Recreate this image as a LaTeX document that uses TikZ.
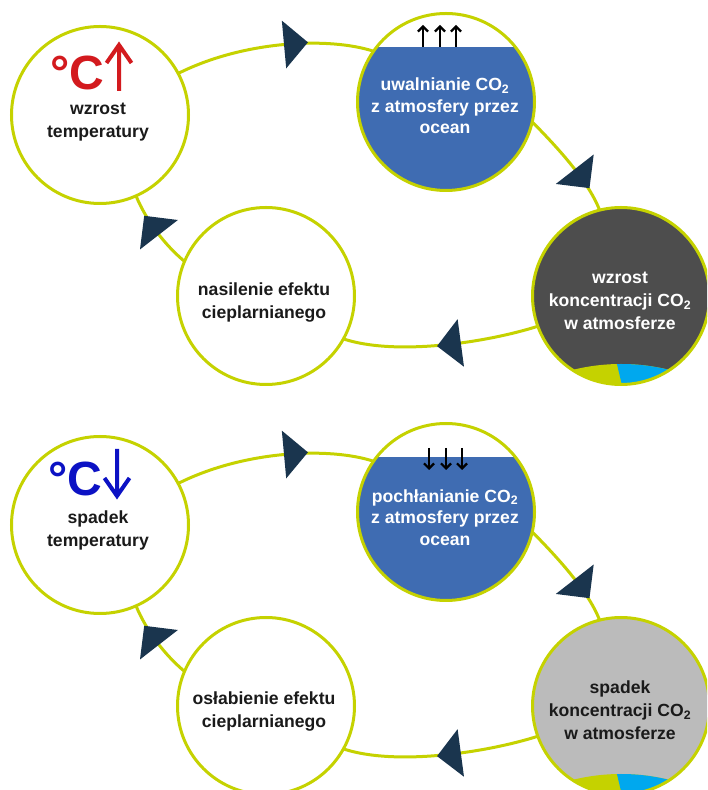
\documentclass[tikz,border=0pt]{standalone}
\usepackage{fontspec}
\usetikzlibrary{arrows.meta,decorations.markings}
\newfontfamily\labfont{Liberation Sans}
\newfontfamily\degfont{Liberation Sans}
\definecolor{ring}{HTML}{C5D200}
\definecolor{navy}{HTML}{1A354E}
\definecolor{oceanblue}{HTML}{3F6CB2}
\definecolor{darkgrey}{HTML}{4D4D4D}
\definecolor{lightgrey}{HTML}{BBBBBB}
\definecolor{cyanblue}{HTML}{00A8EE}
\definecolor{tempred}{HTML}{D31A1E}
\definecolor{tempblue}{HTML}{0C12C4}
\definecolor{txt}{HTML}{1A1A1A}
\tikzset{
  bubble/.style={circle, draw=ring, line width=3pt, fill=white, minimum size=177pt, inner sep=0pt, outer sep=0pt},
  ocean/.style={bubble, path picture={
      \fill[oceanblue] ([shift={(-100pt,-100pt)}]path picture bounding box.center) rectangle ([shift={(100pt,55pt)}]path picture bounding box.center);}},
  globe/.style={bubble, path picture={
      \begin{scope}[shift={(path picture bounding box.center)}]
        \fill[ring] (0pt,-268pt) circle[radius=200pt];
        \begin{scope}
          \clip (0pt,-268pt) circle[radius=200pt];
          \fill[cyanblue] (-6pt,-60pt) -- (3.6pt,-100pt) -- (120pt,-100pt) -- (120pt,-60pt) -- cycle;
        \end{scope}
      \end{scope}}},
  conn/.style={draw=ring, line width=3pt},
  arrowat/.style={postaction={decorate, decoration={markings,
      mark=at position #1 with {\fill[navy] (0pt,24pt) -- (0pt,-24pt) -- (24pt,0pt) -- cycle;}}}},
  lab/.style={align=center, inner sep=0pt, font=\labfont\bfseries\fontsize{17.6}{23}\selectfont, text=txt},
  labw/.style={lab, text=white},
  oceanlab/.style={lab, text=white, font=\labfont\bfseries\fontsize{17.6}{21.7}\selectfont},
  degsym/.style={inner sep=0pt, text depth=0pt, font=\degfont\bfseries\fontsize{48}{48}\selectfont},
  tarrow/.style={line width=4pt, line cap=butt, line join=miter},
  smallarr/.style={draw=black, line width=2.2pt, -{Straight Barb[length=5pt,width=10pt]}}
}
\begin{document}
\begin{tikzpicture}[x=1pt,y=1pt]
\useasboundingbox (0,0) rectangle (707,790);
\clip (0,0) rectangle (707,790);
% ---------- top cycle ----------
\node[bubble] (A1) at (100,675) {};
\node[ocean] (B1) at (446,688) {};
\node[globe, fill=darkgrey] (C1) at (621,494) {};
\node[bubble] (D1) at (266,494) {};
\draw[conn, arrowat=0.55] (A1.28) .. controls (245,750) and (330,753) .. (B1.145);
\draw[conn, arrowat=0.57] (B1.-13) .. controls (555,645) and (588,610) .. (C1.104);
\draw[conn, arrowat=0.4] (C1.200) .. controls (485,447) and (395,434) .. (D1.331);
\draw[conn, arrowat=0.45] (D1.157) .. controls (165,545) and (147,568) .. (A1.294);
\node[lab] (tA1) at (98,667.5) {wzrost\\temperatury};
\node[oceanlab] (tB1) at (445,684) {uwalnianie CO\textsubscript{2}\\z atmosfery przez\\ocean};
\node[labw] (tC1) at (620,489) {wzrost\\koncentracji CO\textsubscript{2}\\w atmosferze};
\node[lab] (tD1) at (264,487.5) {nasilenie efektu\\cieplarnianego};
\node[degsym, text=tempred, anchor=base east] (T1) at (104.5,700) {°C};
\draw[tarrow, draw=tempred] (119,699) -- (119,744) (106.5,727) -- (119,745) -- (131.5,727);
\draw[smallarr] (423,743) -- (423,765);
\draw[smallarr] (440,743) -- (440,765);
\draw[smallarr] (456,743) -- (456,765);
% ---------- bottom cycle ----------
\begin{scope}[yshift=-410pt]
\node[bubble] (A2) at (100,675) {};
\node[ocean] (B2) at (446,688) {};
\node[globe, fill=lightgrey] (C2) at (621,494) {};
\node[bubble] (D2) at (266,494) {};
\draw[conn, arrowat=0.55] (A2.28) .. controls (245,750) and (330,753) .. (B2.145);
\draw[conn, arrowat=0.57] (B2.-13) .. controls (555,645) and (588,610) .. (C2.104);
\draw[conn, arrowat=0.4] (C2.200) .. controls (485,447) and (395,434) .. (D2.331);
\draw[conn, arrowat=0.45] (D2.157) .. controls (165,545) and (147,568) .. (A2.294);
\node[lab] (tA2) at (98,669.5) {spadek\\temperatury};
\node[oceanlab] (tB2) at (445,682.5) {pochłanianie CO\textsubscript{2}\\z atmosfery przez\\ocean};
\node[lab] (tC2) at (620,489.5) {spadek\\koncentracji CO\textsubscript{2}\\w atmosferze};
\node[lab] (tD2) at (264,488.5) {osłabienie efektu\\cieplarnianego};
\node[degsym, text=tempblue, anchor=base east] (T2) at (102.5,704) {°C};
\draw[tarrow, draw=tempblue] (117,751) -- (117,706) (104.5,722) -- (117,704) -- (129.5,722);
\draw[smallarr] (429,752) -- (429,730);
\draw[smallarr] (446,752) -- (446,730);
\draw[smallarr] (462,752) -- (462,730);
\end{scope}
\end{tikzpicture}
\end{document}
